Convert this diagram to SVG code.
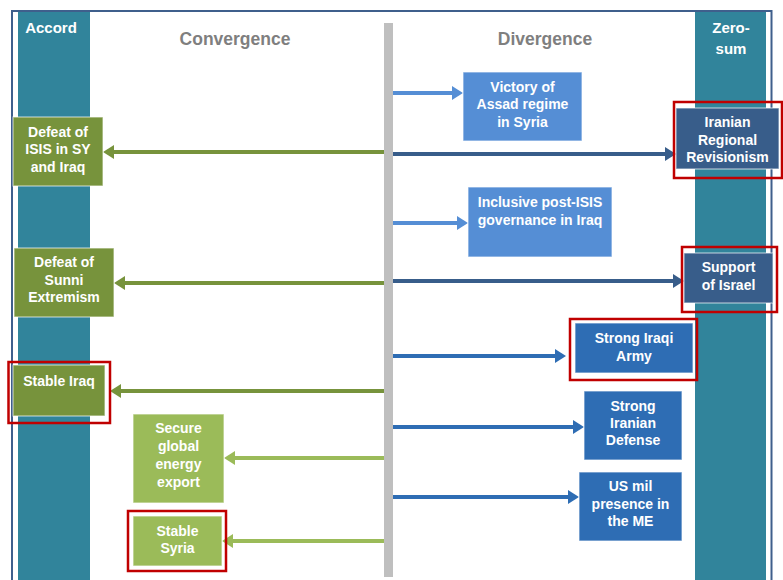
<svg xmlns="http://www.w3.org/2000/svg" width="783" height="580" viewBox="0 0 783 580">
<style>
.col{fill:#31849B}
.hdr{font-family:"Liberation Sans",Arial,sans-serif;font-weight:bold;fill:#7F7F7F;font-size:17.5px;text-anchor:middle}
.colt{font-family:"Liberation Sans",Arial,sans-serif;font-weight:bold;fill:#FFFFFF;font-size:15px;text-anchor:middle}
.t{font-family:"Liberation Sans",Arial,sans-serif;font-weight:bold;fill:#FFFFFF;font-size:14px;text-anchor:middle}
.box{stroke:#FFFFFF;stroke-opacity:0.6;stroke-width:1.2}
.lb{fill:#558ED5}
.db{fill:#385D8A}
.mb{fill:#2E6DB4}
.ol{fill:#77933C}
.lg{fill:#9BBB59}
.hl{fill:none;stroke:#C00000;stroke-width:2.5}
.a{stroke-width:4;fill:none}
</style>
<defs>
<marker id="mlb" markerUnits="userSpaceOnUse" markerWidth="12" markerHeight="16" refX="3" refY="7" orient="auto"><path d="M0,0 L11,7 L0,14 z" fill="#558ED5"/></marker>
<marker id="mdb" markerUnits="userSpaceOnUse" markerWidth="12" markerHeight="16" refX="3" refY="7" orient="auto"><path d="M0,0 L11,7 L0,14 z" fill="#385D8A"/></marker>
<marker id="mmb" markerUnits="userSpaceOnUse" markerWidth="12" markerHeight="16" refX="3" refY="7" orient="auto"><path d="M0,0 L11,7 L0,14 z" fill="#2E6DB4"/></marker>
<marker id="mol" markerUnits="userSpaceOnUse" markerWidth="12" markerHeight="16" refX="3" refY="7" orient="auto"><path d="M0,0 L11,7 L0,14 z" fill="#77933C"/></marker>
<marker id="mlg" markerUnits="userSpaceOnUse" markerWidth="12" markerHeight="16" refX="3" refY="7" orient="auto"><path d="M0,0 L11,7 L0,14 z" fill="#9BBB59"/></marker>
</defs>
<rect width="783" height="580" fill="#FFFFFF"/>
<g id="frame">
<rect x="12" y="11" width="759.5" height="580" fill="#FFFFFF" stroke="#3F5F8C" stroke-width="2"/>
<rect class="col" x="18" y="12" width="72" height="568"/>
<rect class="col" x="695" y="12" width="71" height="568"/>
<rect x="384" y="23" width="9" height="554" fill="#BFBFBF"/>
<text class="colt" x="51" y="33">Accord</text>
<text class="colt" x="731" y="33">Zero-</text>
<text class="colt" x="731" y="54">sum</text>
<text class="hdr" x="235" y="45">Convergence</text>
<text class="hdr" x="545" y="45">Divergence</text>
</g>
<g id="connectors">
<line class="a" x1="393" y1="93" x2="455" y2="93" stroke="#558ED5" marker-end="url(#mlb)"/>
<line class="a" x1="393" y1="154" x2="668" y2="154" stroke="#385D8A" marker-end="url(#mdb)"/>
<line class="a" x1="393" y1="223" x2="460" y2="223" stroke="#558ED5" marker-end="url(#mlb)"/>
<line class="a" x1="393" y1="281" x2="676" y2="281" stroke="#385D8A" marker-end="url(#mdb)"/>
<line class="a" x1="393" y1="356" x2="558" y2="356" stroke="#2E6DB4" marker-end="url(#mmb)"/>
<line class="a" x1="393" y1="427" x2="576" y2="427" stroke="#2E6DB4" marker-end="url(#mmb)"/>
<line class="a" x1="393" y1="497" x2="571" y2="497" stroke="#2E6DB4" marker-end="url(#mmb)"/>
<line class="a" x1="384" y1="152" x2="111" y2="152" stroke="#77933C" marker-end="url(#mol)"/>
<line class="a" x1="384" y1="283" x2="122" y2="283" stroke="#77933C" marker-end="url(#mol)"/>
<line class="a" x1="384" y1="391" x2="118" y2="391" stroke="#77933C" marker-end="url(#mol)"/>
<line class="a" x1="384" y1="458" x2="232" y2="458" stroke="#9BBB59" marker-end="url(#mlg)"/>
<line class="a" x1="384" y1="541" x2="230" y2="541" stroke="#9BBB59" marker-end="url(#mlg)"/>
</g>
<g id="n-assad">
<rect class="box lb" x="463" y="72" width="119" height="69"/>
<text class="t" x="522.5" y="92">Victory of</text>
<text class="t" x="522.5" y="109">Assad regime</text>
<text class="t" x="522.5" y="127">in Syria</text>
</g>
<g id="n-iran-rev">
<rect class="box db" x="676" y="108" width="103" height="61"/>
<rect class="hl" x="674" y="102" width="108" height="76"/>
<text class="t" x="727.5" y="127">Iranian</text>
<text class="t" x="727.5" y="145">Regional</text>
<text class="t" x="727.5" y="162">Revisionism</text>
</g>
<g id="n-inclusive">
<rect class="box lb" x="468" y="187" width="144" height="70"/>
<text class="t" x="540" y="207">Inclusive post-ISIS</text>
<text class="t" x="540" y="225">governance in Iraq</text>
</g>
<g id="n-israel">
<rect class="box db" x="684" y="253" width="89" height="50"/>
<rect class="hl" x="682" y="247" width="95" height="65"/>
<text class="t" x="728.5" y="272">Support</text>
<text class="t" x="728.5" y="290">of Israel</text>
</g>
<g id="n-iraqi-army">
<rect class="box mb" x="575" y="323" width="118" height="50"/>
<rect class="hl" x="570" y="319" width="127" height="61"/>
<text class="t" x="634" y="343">Strong Iraqi</text>
<text class="t" x="634" y="361">Army</text>
</g>
<g id="n-iran-def">
<rect class="box mb" x="584" y="391" width="98" height="69"/>
<text class="t" x="633" y="411">Strong</text>
<text class="t" x="633" y="428">Iranian</text>
<text class="t" x="633" y="445">Defense</text>
</g>
<g id="n-us-mil">
<rect class="box mb" x="579" y="472" width="103" height="69"/>
<text class="t" x="630.5" y="491">US mil</text>
<text class="t" x="630.5" y="509">presence in</text>
<text class="t" x="630.5" y="526">the ME</text>
</g>
<g id="n-isis">
<rect class="box ol" x="13" y="117" width="90" height="69"/>
<text class="t" x="58" y="137">Defeat of</text>
<text class="t" x="58" y="154">ISIS in SY</text>
<text class="t" x="58" y="172">and Iraq</text>
</g>
<g id="n-sunni">
<rect class="box ol" x="14" y="248" width="100" height="69"/>
<text class="t" x="64" y="267">Defeat of</text>
<text class="t" x="64" y="285">Sunni</text>
<text class="t" x="64" y="302">Extremism</text>
</g>
<g id="n-stable-iraq">
<rect class="box ol" x="13" y="365" width="92" height="51"/>
<rect class="hl" x="8.5" y="362" width="101.5" height="61"/>
<text class="t" x="59" y="386">Stable Iraq</text>
</g>
<g id="n-energy">
<rect class="box lg" x="133" y="414" width="91" height="89"/>
<text class="t" x="178.5" y="433">Secure</text>
<text class="t" x="178.5" y="451">global</text>
<text class="t" x="178.5" y="469">energy</text>
<text class="t" x="178.5" y="487">export</text>
</g>
<g id="n-stable-syria">
<rect class="box lg" x="133" y="516" width="89" height="50"/>
<rect class="hl" x="128" y="511" width="98" height="60"/>
<text class="t" x="177.5" y="536">Stable</text>
<text class="t" x="177.5" y="553">Syria</text>
</g>
</svg>
